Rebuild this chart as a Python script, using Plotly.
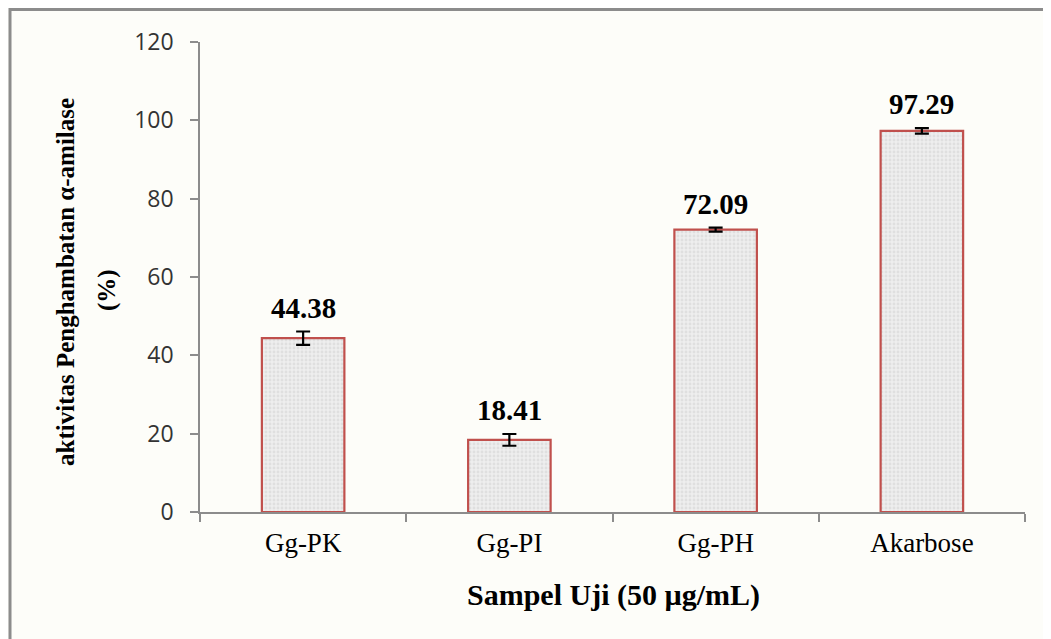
import plotly.graph_objects as go

categories = ["Gg-PK", "Gg-PI", "Gg-PH", "Akarbose"]
values = [44.38, 18.41, 72.09, 97.29]
errors = [1.7, 1.5, 0.5, 0.7]
value_labels = ["44.38", "18.41", "72.09", "97.29"]
y_ticks = [0, 20, 40, 60, 80, 100, 120]

# page body has an 8px margin: figure is drawn 8px in from the top-left
W, H = 1043, 631
L, R, T, B = 192, 26, 34, 127
PW, PH = W - L - R, H - T - B


def px(x):
    return (x - L) / PW


def py(y):
    return (H - B - y) / PH


fig = go.Figure()
fig.add_trace(go.Bar(
    x=categories, y=values, width=0.4,
    marker=dict(
        color="#e9e9e9",
        line=dict(color="#c0504d", width=2.2),
        pattern=dict(shape=".", fgcolor="#cfcfcf", bgcolor="#eeeeee", size=4, solidity=0.4),
    ),
    error_y=dict(type="data", array=errors, visible=True, color="black", thickness=2.2, width=7),
    hoverinfo="skip",
))

for c, v, e, t in zip(categories, values, errors, value_labels):
    fig.add_annotation(x=c, y=v + e, text="<b>%s</b>" % t, showarrow=False,
                       yanchor="bottom", yshift=6,
                       font=dict(family="Liberation Serif", size=29, color="black"))

# y-axis title (two lines)
fig.add_annotation(xref="paper", yref="paper", x=px(57), y=py(274),
                   text="<b>aktivitas Penghambatan α-amilase</b>", textangle=-90, showarrow=False,
                   xanchor="center", yanchor="middle",
                   font=dict(family="Liberation Serif", size=25, color="black"))
fig.add_annotation(xref="paper", yref="paper", x=px(99), y=py(282),
                   text="<b>(%)</b>", textangle=-90, showarrow=False,
                   xanchor="center", yanchor="middle",
                   font=dict(family="Liberation Serif", size=25, color="black"))
# x-axis title
fig.add_annotation(xref="paper", yref="paper", x=px(605), y=py(587),
                   text="<b>Sampel Uji (50 µg/mL)</b>", showarrow=False,
                   xanchor="center", yanchor="middle",
                   font=dict(family="Liberation Serif", size=30, color="black"))

# outer frame
fig.add_shape(type="rect", xref="paper", yref="paper",
              x0=px(2), x1=px(1041), y0=py(660), y1=py(1.5),
              line=dict(color="#8c8c8c", width=3), fillcolor="rgba(0,0,0,0)", layer="below")

fig.update_layout(
    width=W, height=H,
    margin=dict(l=L, r=R, t=T, b=B),
    paper_bgcolor="#fdfdf9", plot_bgcolor="rgba(0,0,0,0)",
    showlegend=False,
)
fig.update_xaxes(
    range=[-0.5, 3.5], showline=True, linecolor="#8c8c8c", linewidth=1.5,
    ticks="outside", tickson="boundaries", ticklen=8, tickcolor="#8c8c8c", tickwidth=1.5,
    showgrid=False, zeroline=False, ticklabelstandoff=6,
    tickfont=dict(family="Liberation Serif", size=27, color="black"),
)
fig.update_yaxes(
    range=[0, 120], tickvals=y_ticks, showline=True, linecolor="#8c8c8c", linewidth=1.5,
    ticks="outside", ticklen=8, tickcolor="#8c8c8c", tickwidth=1.5,
    showgrid=False, zeroline=False, ticklabelstandoff=12,
    tickfont=dict(family="Open Sans", size=23, color="#333333"),
)

fig.write_html("out.html")
